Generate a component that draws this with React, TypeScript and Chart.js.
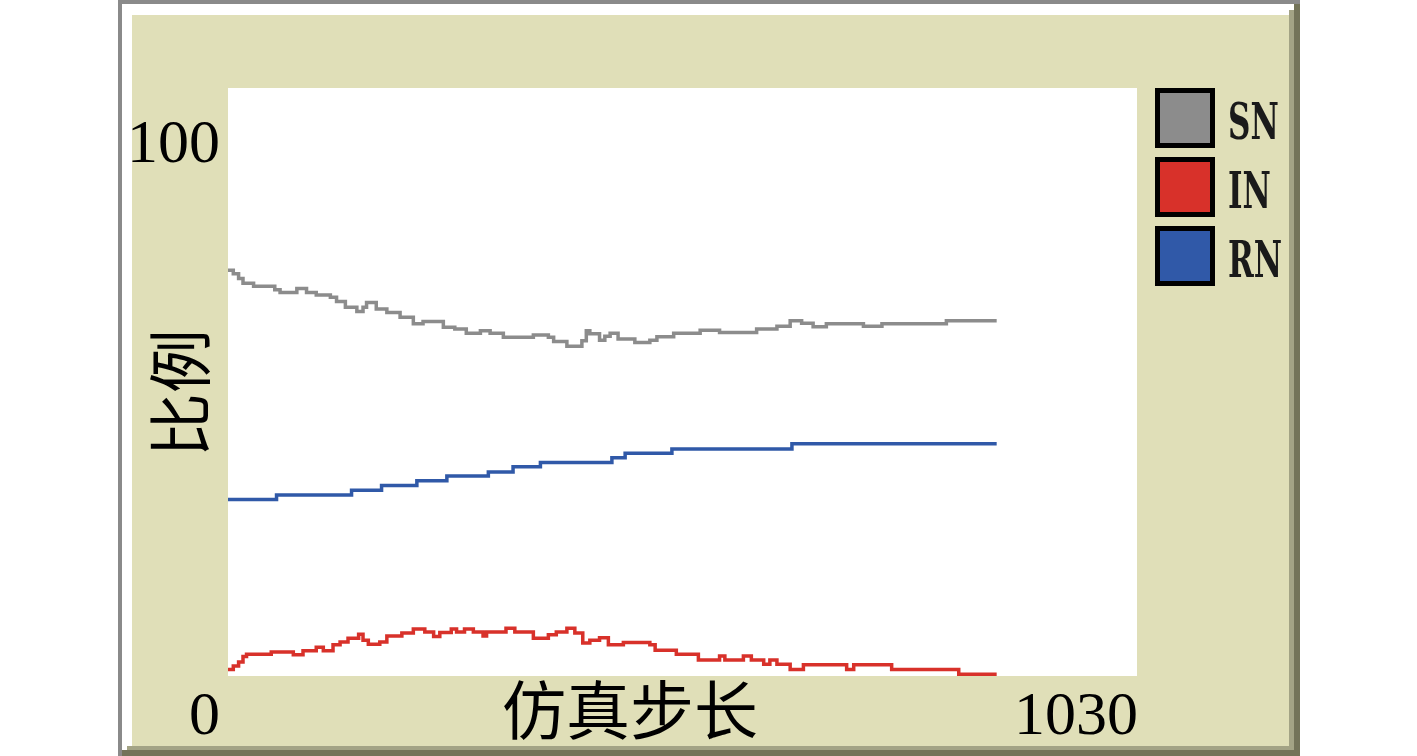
import React, { useEffect, useRef } from "react";
import { Chart, registerables } from "chart.js";

Chart.register(...registerables);

// ---- data ----
const xMin = 0;
const xMax = 1030;
const yMin = 0;
const yMax = 100;
const yMaxLabel = "100";
const xMinLabel = "0";
const xMaxLabel = "1030";
const xTitle = "仿真步长";
const yTitle = "比例";
const seriesNames = ["SN", "IN", "RN"];
const seriesColors = ["#8c8c8c", "#d8312a", "#3059a8"];

const snSteps = [0, 6, 12, 17, 29, 53, 59, 78, 89, 100, 116, 123, 133, 146, 153, 157, 168, 180, 195, 210, 221, 244, 257, 270, 286, 297, 312, 346, 363, 369, 384, 401, 406, 410, 421, 427, 433, 442, 461, 478, 486, 505, 535, 557, 599, 622, 637, 650, 663, 678, 720, 741, 814, 871];
const snValues = [69.0, 68.4, 67.6, 66.8, 66.3, 65.7, 65.2, 65.9, 65.2, 64.8, 64.4, 63.7, 62.7, 62.0, 62.7, 63.5, 62.4, 61.8, 61.0, 59.9, 60.3, 59.3, 59.0, 58.3, 58.7, 58.3, 57.6, 58.0, 57.6, 56.9, 56.1, 57.0, 58.7, 58.2, 57.1, 57.8, 58.3, 57.3, 56.7, 57.1, 57.7, 58.3, 58.8, 58.4, 59.0, 59.5, 60.4, 60.0, 59.4, 59.9, 59.5, 59.9, 60.4, 60.4];

const inSteps = [0, 6, 12, 17, 21, 49, 74, 85, 100, 108, 119, 127, 136, 148, 153, 159, 172, 180, 197, 210, 223, 233, 240, 253, 259, 268, 278, 289, 293, 315, 325, 346, 363, 372, 384, 393, 402, 410, 421, 431, 448, 478, 484, 508, 533, 557, 563, 584, 593, 607, 614, 622, 637, 652, 701, 709, 752, 828, 871];
const inValues = [1.1, 1.7, 2.4, 3.3, 3.7, 4.1, 3.6, 4.3, 4.9, 4.3, 5.3, 5.8, 6.4, 7.1, 6.1, 5.4, 5.8, 6.8, 7.3, 8.0, 7.5, 6.7, 7.4, 8.0, 7.5, 8.0, 7.5, 6.8, 7.5, 8.1, 7.5, 6.4, 7.0, 7.5, 8.1, 7.3, 5.6, 6.1, 6.5, 5.3, 5.7, 5.3, 4.4, 3.7, 2.7, 3.4, 2.7, 3.4, 2.7, 2.0, 2.7, 2.0, 1.1, 1.9, 1.1, 1.9, 1.1, 0.3, 0.3];

const rnSteps = [0, 55, 140, 174, 214, 248, 295, 323, 354, 435, 450, 503, 639, 871];
const rnValues = [30.0, 30.8, 31.6, 32.4, 33.2, 34.0, 34.7, 35.6, 36.3, 37.1, 37.9, 38.6, 39.5, 39.5];

const toPoints = (xs: number[], ys: number[]) => xs.map((x, i) => ({ x, y: ys[i] }));

const framePlugin = {
  id: "netlogoFrame",
  beforeDraw(chart: any) {
    const { ctx, chartArea: a, width, height } = chart;
    ctx.save();
    ctx.fillStyle = "#ffffff";
    ctx.fillRect(0, 0, width, height);
    // outer gray (top/left)
    ctx.fillStyle = "#8a8a8a";
    ctx.fillRect(118, 0, 1182, 4);
    ctx.fillRect(118, 0, 4, 756);
    // dark olive (right/bottom)
    ctx.fillStyle = "#737359";
    ctx.fillRect(1294, 4, 6, 752);
    ctx.fillRect(122, 750, 1178, 6);
    // inner white (top/left)
    ctx.fillStyle = "#ffffff";
    ctx.fillRect(122, 4, 1172, 11);
    ctx.fillRect(122, 4, 10, 746);
    // mid olive (right/bottom)
    ctx.fillStyle = "#a3a385";
    ctx.fillRect(1289, 10, 5, 740);
    ctx.fillRect(127, 746, 1167, 4);
    // beige panel
    ctx.fillStyle = "#e0dfb8";
    ctx.fillRect(132, 15, 1157, 731);
    // plot area
    ctx.fillStyle = "#ffffff";
    ctx.fillRect(a.left, a.top, a.right - a.left, a.bottom - a.top);
    ctx.restore();
  },
  afterDraw(chart: any) {
    const { ctx, chartArea: a } = chart;
    ctx.save();
    ctx.fillStyle = "#000000";
    ctx.font = '62px "Liberation Serif"';
    ctx.textBaseline = "alphabetic";
    ctx.textAlign = "right";
    ctx.fillText(yMaxLabel, a.left - 8, a.top + 74);
    ctx.fillText(xMinLabel, a.left - 8, a.bottom + 58);
    ctx.fillText(xMaxLabel, a.right + 1, a.bottom + 58);

    ctx.font = '64px "Noto Sans CJK SC"';
    ctx.textAlign = "center";
    ctx.textBaseline = "middle";
    ctx.fillText(xTitle, a.left + 402, a.bottom + 34);
    ctx.save();
    ctx.translate(a.left - 48, a.top + 305);
    ctx.rotate(-Math.PI / 2);
    ctx.fillText(yTitle, 0, 0);
    ctx.restore();

    // legend
    const bx = a.right + 18;
    seriesNames.forEach((name, i) => {
      const by = a.top + i * 69;
      ctx.fillStyle = "#000000";
      ctx.fillRect(bx, by, 60, 60);
      ctx.fillStyle = seriesColors[i];
      ctx.fillRect(bx + 5, by + 5, 50, 50);
      ctx.save();
      ctx.fillStyle = "#1a1a1a";
      ctx.font = 'bold 50px "DejaVu Serif"';
      ctx.textAlign = "left";
      ctx.textBaseline = "middle";
      ctx.translate(bx + 73, by + 38);
      ctx.scale(0.62, 1);
      ctx.fillText(name, 0, 0);
      ctx.restore();
    });
    ctx.restore();
  },
};

export default function App() {
  const ref = useRef<HTMLCanvasElement | null>(null);
  useEffect(() => {
    document.body.style.margin = "0";
    const canvas = ref.current;
    if (!canvas) return;
    const chart = new Chart(canvas, {
      type: "line",
      data: {
        datasets: [
          { label: seriesNames[0], data: toPoints(snSteps, snValues), borderColor: seriesColors[0] },
          { label: seriesNames[1], data: toPoints(inSteps, inValues), borderColor: seriesColors[1] },
          { label: seriesNames[2], data: toPoints(rnSteps, rnValues), borderColor: seriesColors[2] },
        ].map((d) => ({ ...d, stepped: true, borderWidth: 3.5, pointRadius: 0, fill: false, tension: 0 })),
      },
      options: {
        animation: false,
        responsive: false,
        maintainAspectRatio: false,
        layout: { padding: { left: 228, top: 88, right: 280, bottom: 80 } },
        scales: {
          x: { type: "linear", min: xMin, max: xMax, display: false },
          y: { type: "linear", min: yMin, max: yMax, display: false },
        },
        plugins: { legend: { display: false }, tooltip: { enabled: false } },
      },
      plugins: [framePlugin],
    });
    return () => chart.destroy();
  }, []);
  return <canvas ref={ref} width={1417} height={756} style={{ display: "block" }} />;
}
